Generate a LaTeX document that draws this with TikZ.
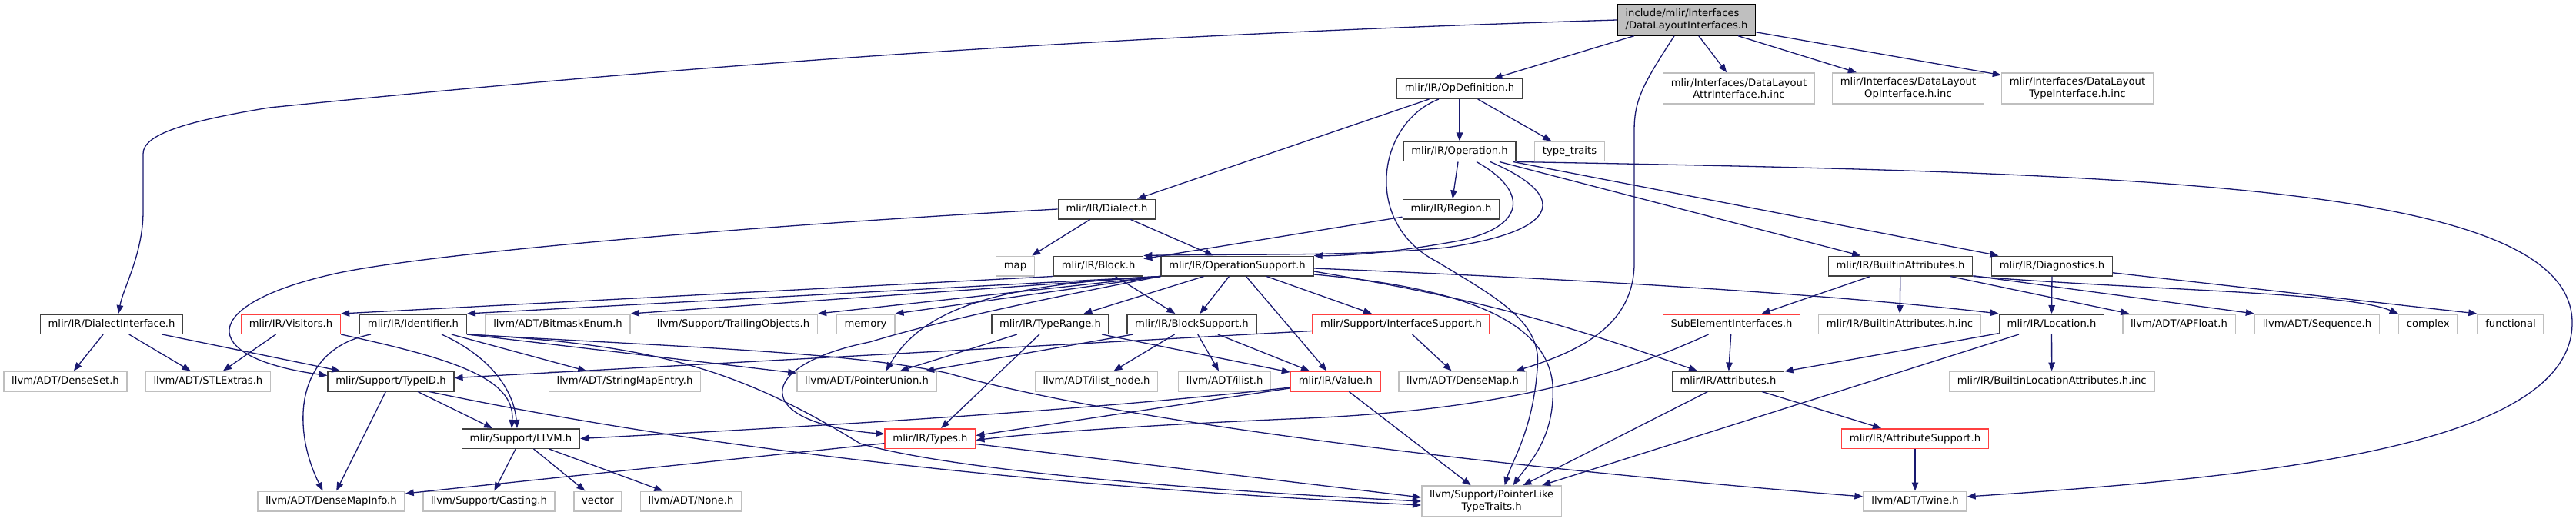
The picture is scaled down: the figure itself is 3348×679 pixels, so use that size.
\documentclass[tikz,border=0pt]{standalone}
\usepackage{fontspec}
\setmainfont{DejaVu Sans}
\usetikzlibrary{arrows.meta}
\definecolor{depblue}{RGB}{25,25,112}
\definecolor{docgray}{RGB}{64,64,64}
\definecolor{extgray}{RGB}{191,191,191}
\definecolor{cutred}{RGB}{255,64,64}

\begin{document}
\begin{tikzpicture}[
  x=1pt, y=-1pt, font=\fontsize{13.16}{15.6}\selectfont,
  file/.style={draw, line width=1.5pt, fill=white, inner xsep=10.25pt,
               inner ysep=0pt, align=center},
  one/.style={file, minimum height=25.5pt, text height=10pt, text depth=3pt},
  two/.style={file, minimum height=40pt},
  doc/.style={one, draw=docgray},
  ext/.style={one, draw=extgray},
  cut/.style={one, draw=cutred},
  extt/.style={two, draw=extgray},
  dep/.style={draw=depblue, line width=1.3pt,
              -{Triangle[length=11pt,width=8.5pt]}}
]
  \path[fill=white] (0,0) rectangle (3348,679);
  \useasboundingbox (0,0) rectangle (3348,679);

  \node[two, draw=black, fill=extgray, align=left] (root) at (2192,26) {include/mlir/Interfaces\\/DataLayoutInterfaces.h};
  \node[doc] (opdef) at (1897,115.5) {mlir/IR/OpDefinition.h};
  \node[extt] (attrinc) at (2260,115) {mlir/Interfaces/DataLayout\\AttrInterface.h.inc};
  \node[extt] (opinc) at (2480,115) {mlir/Interfaces/DataLayout\\OpInterface.h.inc};
  \node[extt] (typeinc) at (2700,115) {mlir/Interfaces/DataLayout\\TypeInterface.h.inc};
  \node[doc] (oper) at (1897,197) {mlir/IR/Operation.h};
  \node[ext] (ttraits) at (2040,197) {type\_traits};
  \node[doc] (dialect) at (1438.5,272) {mlir/IR/Dialect.h};
  \node[doc] (region) at (1886,272) {mlir/IR/Region.h};
  \node[ext] (map) at (1319.5,346) {map};
  \node[doc] (block) at (1427.6,346) {mlir/IR/Block.h};
  \node[doc] (opsup) at (1608,346) {mlir/IR/OperationSupport.h};
  \node[doc] (battr) at (2470,346) {mlir/IR/BuiltinAttributes.h};
  \node[doc] (diag) at (2667,346) {mlir/IR/Diagnostics.h};

  \node[doc] (dlgint) at (145,421.5) {mlir/IR/DialectInterface.h};
  \node[cut] (visitors) at (378,421.5) {mlir/IR/Visitors.h};
  \node[doc] (ident) at (537,421.5) {mlir/IR/Identifier.h};
  \node[ext] (bitmask) at (725,421.5) {llvm/ADT/BitmaskEnum.h};
  \node[ext] (trailing) at (953,421.5) {llvm/Support/TrailingObjects.h};
  \node[ext] (memory) at (1125,421.5) {memory};
  \node[doc] (trange) at (1365,421.5) {mlir/IR/TypeRange.h};
  \node[doc] (bsup) at (1549,421.5) {mlir/IR/BlockSupport.h};
  \node[cut] (ifsup) at (1821,421.5) {mlir/Support/InterfaceSupport.h};
  \node[cut] (subel) at (2250.5,421.5) {SubElementInterfaces.h};
  \node[ext] (battrinc) at (2469,421.5) {mlir/IR/BuiltinAttributes.h.inc};
  \node[doc] (loc) at (2666.5,421.5) {mlir/IR/Location.h};
  \node[ext] (apfloat) at (2832,421.5) {llvm/ADT/APFloat.h};
  \node[ext] (sequence) at (3011.5,421.5) {llvm/ADT/Sequence.h};
  \node[ext] (complex) at (3155.7,421.5) {complex};
  \node[ext] (functional) at (3263,421.5) {functional};

  \node[ext] (denseset) at (85,496) {llvm/ADT/DenseSet.h};
  \node[ext] (stlext) at (270.4,496) {llvm/ADT/STLExtras.h};
  \node[doc] (typeid) at (508,496) {mlir/Support/TypeID.h};
  \node[ext] (smentry) at (812,496) {llvm/ADT/StringMapEntry.h};
  \node[ext] (punion) at (1126.5,496) {llvm/ADT/PointerUnion.h};
  \node[ext] (ilnode) at (1425,496) {llvm/ADT/ilist\_node.h};
  \node[ext] (ilist) at (1591.7,496) {llvm/ADT/ilist.h};
  \node[cut] (value) at (1735.8,496) {mlir/IR/Value.h};
  \node[ext] (densemap) at (1901,496) {llvm/ADT/DenseMap.h};
  \node[doc] (attrs) at (2246,496) {mlir/IR/Attributes.h};
  \node[ext] (blocinc) at (2666.7,496) {mlir/IR/BuiltinLocationAttributes.h.inc};

  \node[doc] (llvm) at (677,570.5) {mlir/Support/LLVM.h};
  \node[cut] (types) at (1209,570.5) {mlir/IR/Types.h};
  \node[cut] (attrsup) at (2489,570.5) {mlir/IR/AttributeSupport.h};

  \node[ext] (dminfo) at (430.5,652) {llvm/ADT/DenseMapInfo.h};
  \node[ext] (casting) at (635.5,652) {llvm/Support/Casting.h};
  \node[ext] (vector) at (777,652) {vector};
  \node[ext] (none) at (898,652) {llvm/ADT/None.h};
  \node[extt] (pltt) at (1938.6,652) {llvm/Support/PointerLike\\TypeTraits.h};
  \node[ext] (twine) at (2489,652) {llvm/ADT/Twine.h};

  \draw[dep] (root.west) .. controls (1300,50) and (750,100) .. (350,140)
    .. controls (240,158) and (186,175) .. (186,200) -- (186,275)
    .. controls (186,330) and (160,375) .. ([xshift=9pt]dlgint.north);
  \draw[dep] (root) -- (opdef);
  \draw[dep] (root) -- (attrinc);
  \draw[dep] (root) -- (opinc);
  \draw[dep] (root) -- (typeinc);
  \draw[dep] ([xshift=-16pt]root.south) .. controls (2135,110) and (2124,130) .. (2124,170)
    -- (2124,345) .. controls (2122,420) and (2060,455) .. ([xshift=69pt]densemap.north);

  \draw[dep] (opdef) -- (oper);
  \draw[dep] (opdef) -- (ttraits);
  \draw[dep] (opdef) -- (dialect);
  \draw[dep] ([xshift=-27pt]opdef.south) .. controls (1790,160) and (1770,290) .. (1867,340)
    .. controls (1950,390) and (2005,420) .. (1998,480)
    .. controls (1992,560) and (1965,600) .. ([xshift=17pt]pltt.north);

  \draw[dep] (oper) -- (region);
  \draw[dep] ([xshift=22pt]oper.south) .. controls (1990,250) and (1985,300) .. (1880,316)
    .. controls (1800,330) and (1740,333) .. (opsup.north east);
  \draw[dep] ([xshift=40pt]oper.south) .. controls (2040,255) and (2030,300) .. (1880,322)
    .. controls (1760,334) and (1600,330) .. (block.north east);
  \draw[dep] (oper) -- (battr);
  \draw[dep] (oper) -- (diag);
  \draw[dep] (oper.south east) .. controls (2800,225) and (3343,240) .. (3343,420)
    .. controls (3343,580) and (2950,620) .. ([yshift=6pt]twine.east);

  \draw[dep] (dialect) -- (map);
  \draw[dep] (dialect) -- (opsup);
  \draw[dep] (dialect.west) .. controls (950,295) and (560,330) .. (440,355)
    .. controls (255,395) and (255,465) .. ([yshift=-6pt]typeid.north west);

  \draw[dep] (region) -- (block);
  \draw[dep] (block) -- (bsup);
  \draw[dep] (block.south west) -- (visitors.north east);

  \draw[dep] (opsup) -- (bsup);
  \draw[dep] (opsup) -- (trange);
  \draw[dep] (opsup.south west) -- (memory.north east);
  \draw[dep] (opsup.south west) -- (trailing.north east);
  \draw[dep] (opsup.south west) -- (bitmask.north east);
  \draw[dep] (opsup.south west) -- (ident.north east);
  \draw[dep] (opsup.south west) .. controls (1300,370) and (1200,400) .. ([xshift=25pt]punion.north);
  \draw[dep] (opsup.south west) .. controls (1340,392) and (1220,418) .. (1130,445)
    .. controls (980,475) and (975,550) .. ([yshift=6pt]types.west);
  \draw[dep] (opsup) -- (ifsup);
  \draw[dep] (opsup) -- (value);
  \draw[dep] ([yshift=-3pt]opsup.east) .. controls (2100,365) and (2400,385) .. (loc.north west);
  \draw[dep] ([yshift=-7pt]opsup.east) to[bend left=5] ([xshift=-40pt]attrs.north);
  \draw[dep] ([yshift=-11pt]opsup.east) .. controls (1910,375) and (2010,420) .. (2018,500)
    .. controls (2022,570) and (1985,605) .. ([xshift=28pt]pltt.north);

  \draw[dep] (bsup) -- (punion);
  \draw[dep] (bsup) -- (ilnode);
  \draw[dep] (bsup) -- (ilist);
  \draw[dep] (bsup) -- (value);
  \draw[dep] (trange) -- (punion);
  \draw[dep] (trange) -- (types);
  \draw[dep] (trange) -- (value);

  \draw[dep] (ifsup) -- (densemap);
  \draw[dep] ([yshift=-9pt]ifsup.west) -- (typeid);

  \draw[dep] (value) -- ([yshift=4pt]types.east);
  \draw[dep] ([yshift=-8pt]value.west) .. controls (1450,530) and (1150,550) .. (llvm.east);
  \draw[dep] (value) -- (pltt);

  \draw[dep] (ident) -- (smentry);
  \draw[dep] (ident.south east) -- (punion);
  \draw[dep] ([xshift=37pt]ident.south) .. controls (640,465) and (668,510) .. ([xshift=-5pt]llvm.north);
  \draw[dep] ([xshift=-55pt]ident.south) .. controls (380,455) and (380,560) .. ([xshift=-11pt]dminfo.north);
  \draw[dep] (ident.south east) .. controls (850,448) and (960,480) .. (1118,577)
    .. controls (1250,615) and (1600,640) .. (pltt.west);
  \draw[dep] (ident.south east) .. controls (900,452) and (1100,458) .. (1230,485)
    .. controls (1480,555) and (2000,612) .. ([yshift=6pt]twine.west);

  \draw[dep] (visitors.south east) .. controls (580,465) and (670,490) .. ([xshift=-12pt]llvm.north);
  \draw[dep] (visitors) -- (stlext);

  \draw[dep] ([xshift=35pt]typeid.south) -- ([xshift=-37pt]llvm.north);
  \draw[dep] (typeid) -- (dminfo);
  \draw[dep] ([xshift=50pt]typeid.south) .. controls (800,560) and (1200,625) .. ([yshift=-5pt]pltt.west);

  \draw[dep] (dlgint) -- (denseset);
  \draw[dep] (dlgint) -- (stlext);
  \draw[dep] (dlgint) -- (typeid);

  \draw[dep] (types) -- (dminfo);
  \draw[dep] (types) -- ([yshift=5pt]pltt.west);

  \draw[dep] (llvm) -- (casting);
  \draw[dep] (llvm) -- (vector);
  \draw[dep] (llvm) -- (none);

  \draw[dep] (battr) -- (subel);
  \draw[dep] (battr) -- (battrinc);
  \draw[dep] (battr) -- (apfloat);
  \draw[dep] (battr) -- (sequence.north west);
  \draw[dep] (battr.south east) .. controls (2800,378) and (3050,380) .. (complex.north west);

  \draw[dep] (diag) -- (loc);
  \draw[dep] (diag) -- (functional.north west);

  \draw[dep] (loc) -- (attrs);
  \draw[dep] (loc) -- (pltt);
  \draw[dep] (loc) -- (blocinc);

  \draw[dep] (subel) -- (attrs);
  \draw[dep] ([xshift=-30pt]subel.south) .. controls (2100,490) and (1950,535) .. (1674,545)
    .. controls (1450,555) and (1330,565) .. ([yshift=-2pt]types.east);

  \draw[dep] (attrs) -- (attrsup);
  \draw[dep] (attrs) -- (pltt);
  \draw[dep] (attrsup) -- (twine);
\end{tikzpicture}
\end{document}
